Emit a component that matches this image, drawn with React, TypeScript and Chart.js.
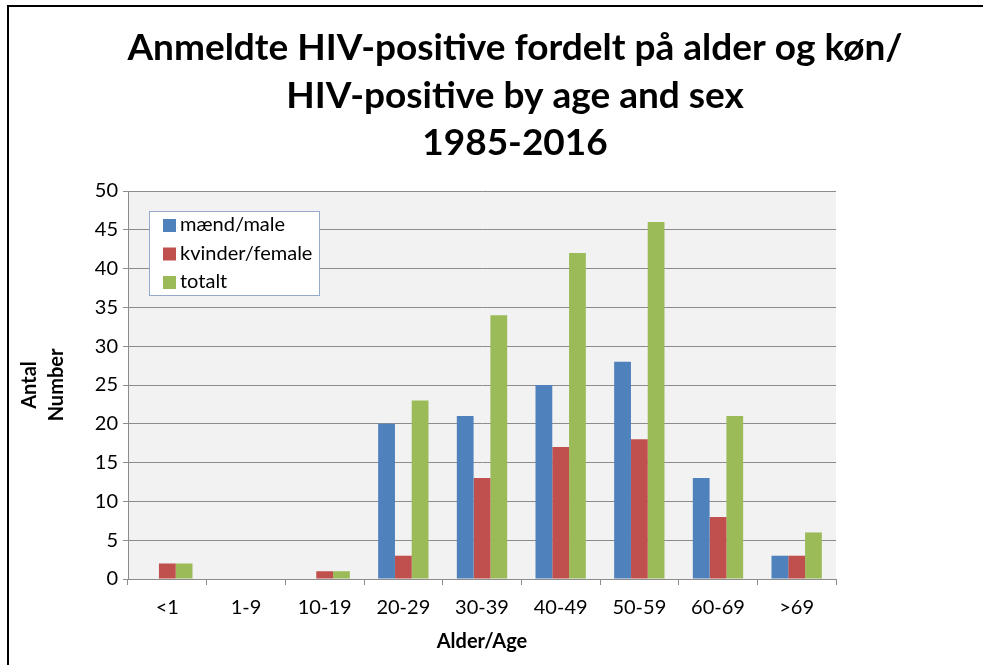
import React, { useEffect, useRef } from "react";
import { Chart, registerables } from "chart.js";

Chart.register(...registerables);

const categories = ["<1", "1-9", "10-19", "20-29", "30-39", "40-49", "50-59", "60-69", ">69"];
const maleValues = [0, 0, 0, 20, 21, 25, 28, 13, 3];
const femaleValues = [2, 0, 1, 3, 13, 17, 18, 8, 3];
const totalValues = [2, 0, 1, 23, 34, 42, 46, 21, 6];
const seriesLabels = ["mænd/male", "kvinder/female", "totalt"];
const seriesColors = ["#4f81bd", "#c0504d", "#9bbb59"];
const titleLines = [
  "Anmeldte HIV-positive fordelt på alder og køn/",
  "HIV-positive by age and sex",
  "1985-2016",
];
const yTitleLines = ["Antal", "Number"];
const xTitle = "Alder/Age";

const FONT = "Lato, 'Open Sans', sans-serif";
const GRID = "#8c8c8c";

const plotBg = {
  id: "plotBg",
  beforeDraw(chart: any) {
    const { ctx, chartArea } = chart;
    ctx.save();
    ctx.fillStyle = "#f2f2f2";
    ctx.fillRect(chartArea.left, chartArea.top, chartArea.right - chartArea.left, chartArea.bottom - chartArea.top);
    ctx.restore();
  },
};

const titlePlugin = {
  id: "customTitle",
  afterDraw(chart: any) {
    const { ctx } = chart;
    ctx.save();
    ctx.fillStyle = "#000";
    ctx.font = `bold 37px ${FONT}`;
    ctx.textAlign = "center";
    ctx.textBaseline = "middle";
    const ys = [48, 96, 143];
    titleLines.forEach((t, i) => ctx.fillText(t, 515, ys[i]));
    ctx.restore();
  },
};

const legendPlugin = {
  id: "insideLegend",
  afterDraw(chart: any) {
    const { ctx, chartArea } = chart;
    const x = chartArea.left + 21;
    const y = chartArea.top + 20;
    const w = 171;
    const h = 85;
    ctx.save();
    ctx.fillStyle = "#ffffff";
    ctx.fillRect(x, y, w, h);
    ctx.strokeStyle = "#95a9cc";
    ctx.lineWidth = 1;
    ctx.strokeRect(x + 0.5, y + 0.5, w - 1, h - 1);
    ctx.font = `20px ${FONT}`;
    ctx.textBaseline = "middle";
    ctx.textAlign = "left";
    chart.data.datasets.forEach((ds: any, i: number) => {
      const cy = y + 14 + i * 28.5;
      ctx.fillStyle = ds.backgroundColor;
      ctx.fillRect(x + 14, cy - 6, 13, 13);
      ctx.fillStyle = "#000";
      ctx.fillText(ds.label, x + 31, cy);
    });
    ctx.restore();
  },
};

export default function App() {
  const ref = useRef<HTMLCanvasElement | null>(null);
  useEffect(() => {
    if (!ref.current) return;
    const chart = new Chart(ref.current, {
      type: "bar",
      data: {
        labels: categories,
        datasets: [
          { label: seriesLabels[0], data: maleValues, backgroundColor: seriesColors[0] },
          { label: seriesLabels[1], data: femaleValues, backgroundColor: seriesColors[1] },
          { label: seriesLabels[2], data: totalValues, backgroundColor: seriesColors[2] },
        ],
      },
      options: {
        responsive: false,
        animation: false,
        layout: { padding: { top: 191, right: 147, left: 0, bottom: 0 } },
        plugins: {
          legend: { display: false },
          title: { display: false },
          tooltip: { enabled: false },
        },
        datasets: { bar: { barPercentage: 1, categoryPercentage: 0.64 } },
        scales: {
          x: {
            grid: { display: true, drawOnChartArea: false, drawTicks: true, tickLength: 6, color: GRID, offset: true },
            border: { display: true, color: GRID },
            ticks: { color: "#000", font: { family: FONT, size: 20 }, padding: 11, maxRotation: 0 },
            title: {
              display: true,
              text: xTitle,
              color: "#000",
              font: { family: FONT, size: 20, weight: "bold", lineHeight: 1.2 },
              padding: { top: 0, bottom: 11 },
            },
            afterFit(scale: any) {
              scale.height = 86;
            },
          },
          y: {
            min: 0,
            max: 50,
            ticks: { stepSize: 5, color: "#000", font: { family: FONT, size: 20 }, padding: 5 },
            grid: { color: GRID, tickLength: 5, drawTicks: true },
            border: { display: true, color: GRID },
            title: {
              display: true,
              text: yTitleLines,
              color: "#000",
              font: { family: FONT, size: 20, weight: "bold", lineHeight: 1.35 },
              padding: { top: 16, bottom: 0 },
            },
            afterFit(scale: any) {
              scale.width = 128;
            },
          },
        },
      },
      plugins: [plotBg, titlePlugin, legendPlugin],
    });
    return () => chart.destroy();
  }, []);

  return (
    <div style={{ position: "fixed", left: 0, top: 0, width: 983, height: 665, background: "#fff", overflow: "hidden" }}>
      <div
        style={{
          position: "absolute",
          left: 7,
          top: 5,
          right: -10,
          bottom: -10,
          borderTop: "2px solid #000",
          borderLeft: "2px solid #000",
        }}
      />
      <canvas ref={ref} width={983} height={665} style={{ position: "absolute", left: 0, top: 0, display: "block" }} />
    </div>
  );
}
